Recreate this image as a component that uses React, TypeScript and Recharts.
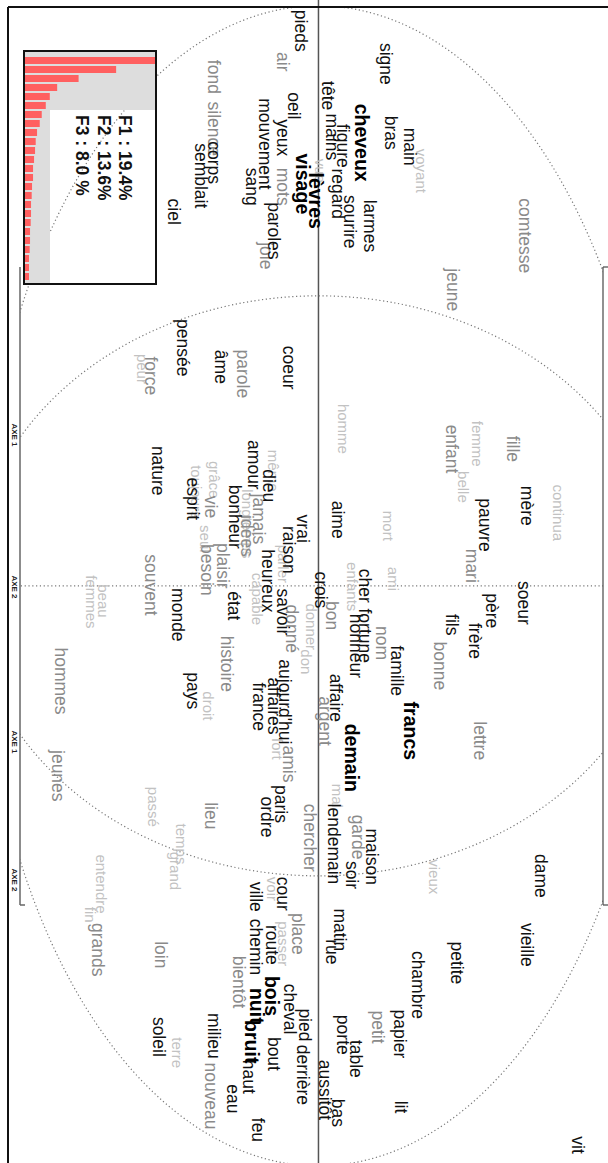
import React from 'react';
import { ScatterChart, Scatter, XAxis, YAxis, ReferenceLine, ReferenceDot, BarChart, Bar } from 'recharts';

// chart is drawn in landscape (F1 horizontal, F2 vertical) and turned a quarter turn
const W = 1163;
const H = 608;
const X_MIN = -2.02;
const X_MAX = 1.99;
const Y_MIN = -1.1;
const Y_MAX = 1.0;

type Word = [string, number, number];

const boldWords: Word[] = [
  ['lèvres', -1.328, -0.01], ['visage', -1.386, -0.052], ['cheveux', -1.528, 0.152],
  ['francs', 0.5, 0.321], ['demain', 0.593, 0.117], ['bois', 1.414, -0.159],
  ['nuit', 1.448, -0.214], ['bruit', 1.572, -0.231],
];

const blackWords: Word[] = [
  ['pieds', -1.914, -0.059], ['oeil', -1.655, -0.083], ['yeux', -1.545, -0.124],
  ['mouvement', -1.524, -0.186], ['sang', -1.376, -0.228], ['corps', -1.459, -0.362],
  ['semblait', -1.414, -0.407], ['ciel', -1.29, -0.5], ['paroles', -1.224, -0.152],
  ['signe', -1.8, 0.234], ['bras', -1.562, 0.252], ['main', -1.514, 0.317],
  ['tête', -1.69, 0.034], ['mains', -1.548, 0.045], ['figure', -1.517, 0.086],
  ['regard', -1.352, 0.069], ['sourire', -1.255, 0.11], ['larmes', -1.241, 0.179],
  ['pensée', -0.821, -0.469], ['coeur', -0.752, -0.103], ['âme', -0.755, -0.338],
  ['nature', -0.397, -0.555], ['dieu', -0.345, -0.172], ['amour', -0.417, -0.224],
  ['bonheur', -0.238, -0.29], ['esprit', -0.3, -0.434], ['vrai', -0.197, -0.052],
  ['raison', -0.124, -0.103], ['heureux', -0.017, -0.176], ['aime', -0.228, 0.069],
  ['crois', 0.014, 0.007], ['état', 0.069, -0.293], ['savoir', 0.09, -0.121],
  ['monde', 0.1, -0.486], ['pays', 0.362, -0.434], ["aujourd'hui", 0.4, -0.114],
  ['affaires', 0.414, -0.155], ['france', 0.417, -0.207], ['paris', 0.752, -0.131],
  ['ordre', 0.797, -0.179], ['mère', -0.276, 0.721], ['pauvre', -0.21, 0.576],
  ['soeur', 0.059, 0.71], ['père', 0.086, 0.6], ['frère', 0.19, 0.541],
  ['fils', 0.134, 0.462], ['cher', 0.0, 0.162], ['fortune', 0.172, 0.162],
  ['honneur', 0.207, 0.128], ['famille', 0.293, 0.272], ['affaire', 0.386, 0.062],
  ['lendemain', 0.89, 0.052], ['maison', 0.934, 0.186], ['soir', 0.997, 0.117],
  ['dame', 1.0, 0.769], ['vieille', 1.238, 0.721], ['petite', 1.3, 0.479],
  ['chambre', 1.376, 0.345], ['papier', 1.545, 0.283], ['table', 1.631, 0.128],
  ['porte', 1.548, 0.086], ['lit', 1.797, 0.286], ['bas', 1.817, 0.069],
  ['vit', 1.928, 0.897], ['aussitôt', 1.738, 0.021], ['matin', 1.186, 0.076],
  ['rue', 1.262, 0.048], ['cour', 1.062, -0.124], ['ville', 1.072, -0.217],
  ['route', 1.238, -0.159], ['chemin', 1.245, -0.217], ['cheval', 1.459, -0.097],
  ['pied', 1.514, -0.045], ['derrière', 1.686, -0.055], ['bout', 1.614, -0.155],
  ['haut', 1.693, -0.241], ['eau', 1.769, -0.297], ['milieu', 1.552, -0.362],
  ['feu', 1.876, -0.21], ['soleil', 1.555, -0.552],
];

const grayWords: Word[] = [
  ['air', -1.807, -0.124], ['fond', -1.755, -0.362], ['silence', -1.576, -0.362],
  ['mots', -1.376, -0.121], ['joie', -1.138, -0.183], ['comtesse', -1.207, 0.714],
  ['jeune', -1.021, 0.466], ['parole', -0.731, -0.262], ['force', -0.724, -0.579],
  ['jamais', -0.231, -0.207], ['vie', -0.272, -0.372], ['besoin', -0.055, -0.386],
  ['plaisir', -0.069, -0.331], ['souvent', -0.003, -0.579], ['hommes', 0.328, -0.89],
  ['jeunes', 0.655, -0.9], ['histoire', 0.269, -0.317], ['amis', 0.614, -0.103],
  ['lieu', 0.793, -0.372], ['chercher', 0.869, -0.031], ['fille', -0.472, 0.672],
  ['enfant', -0.472, 0.462], ['mari', -0.069, 0.531], ['bon', 0.103, 0.045],
  ['nom', 0.197, 0.221], ['bonne', 0.276, 0.421], ['lettre', 0.534, 0.559],
  ['argent', 0.466, 0.021], ['garde', 0.866, 0.138], ['petit', 1.521, 0.207],
  ['place', 1.2, -0.072], ['bientôt', 1.366, -0.276], ['loin', 1.272, -0.545],
  ['grands', 1.255, -0.762], ['nouveau', 1.759, -0.372], ['donné', 0.148, -0.09],
  ['idées', -0.172, -0.248],
];

const lightWords: Word[] = [
  ['voyant', -1.431, 0.355], ['vue', -1.431, 0.007], ['peur', -0.748, -0.607],
  ['homme', -0.541, 0.086], ['femme', -0.49, 0.548], ['belle', -0.341, 0.5],
  ['continua', -0.252, 0.828], ['mort', -0.207, 0.241], ['même', -0.397, -0.155],
  ['longtemps', -0.214, -0.245], ['grâce', -0.366, -0.359], ['toujours', -0.324, -0.421],
  ['seul', -0.162, -0.39], ['parler', -0.076, -0.121], ['capable', 0.045, -0.21],
  ['enfants', 0.003, 0.117], ['ami', -0.024, 0.259], ['donner', 0.141, -0.024],
  ['don', 0.262, -0.041], ['droit', 0.414, -0.379], ['fort', 0.562, -0.141],
  ['beau', 0.052, -0.741], ['femmes', 0.055, -0.783], ['passé', 0.762, -0.569],
  ['temps', 0.89, -0.472], ['grand', 0.983, -0.493], ['entendre', 1.028, -0.748],
  ['fin', 1.134, -0.786], ['terre', 1.61, -0.486], ['vieux', 1.003, 0.4],
  ['mal', 0.724, 0.066], ['voir', 1.045, -0.159], ['passer', 1.234, -0.121],
];

// eigenvalues in % of inertia
const axesNames = Array.from({ length: 25 }, (_, i) => `F${i + 1}`);
const eigenValues = [
  19.4, 13.6, 8.0, 4.8, 3.7, 3.1, 2.5, 2.2, 1.8, 1.6, 1.5, 1.35, 1.2,
  1.2, 1.05, 1.0, 0.9, 0.9, 0.85, 0.75, 0.75, 0.7, 0.6, 0.6, 0.6,
];
const legendLines = ['F1 : 19.4%', 'F2 : 13.6%', 'F3 : 8.0 %'];

// dotted ellipses, radii in axis units
const INNER_RX = 1.0;
const INNER_RY = 1.2;
const OUTER_RX = 2.0;
const OUTER_RY = 1.17;
const FRAME_Y_LOW = -1.028;
const FRAME_Y_HIGH = 0.983;

const FONT = '"Liberation Sans", Arial, Helvetica, sans-serif';
const DOTS = '1.2 2.6';

const toPoints = (list: Word[]) => list.map(([w, x, y]) => ({ w, x, y }));

const wordShape = (size: number, color: string, weight: string) => (props: any) => {
  const { cx, cy, payload } = props;
  return (
    <text
      x={cx}
      y={cy}
      textAnchor="middle"
      dominantBaseline="central"
      fontSize={size}
      fontWeight={weight}
      fill={color}
      fontFamily={FONT}
    >
      {payload.w}
    </text>
  );
};

const pxX = W / (X_MAX - X_MIN);
const pxY = H / (Y_MAX - Y_MIN);

const ellipseShape = (props: any) => {
  const { cx, cy } = props;
  return (
    <g>
      <defs>
        <clipPath id="frame-clip">
          <rect x={7} y={5} width={W - 7} height={583} />
        </clipPath>
      </defs>
      <g clipPath="url(#frame-clip)" fill="none" stroke="#777" strokeWidth={1.2} strokeDasharray={DOTS}>
        <ellipse cx={cx} cy={cy} rx={INNER_RX * pxX} ry={INNER_RY * pxY} />
        <ellipse cx={cx} cy={cy} rx={OUTER_RX * pxX} ry={OUTER_RY * pxY} />
      </g>
    </g>
  );
};

const axeLabels: [string, number][] = [['AXE 1', 435], ['AXE 2', 587], ['AXE 1', 742], ['AXE 2', 880]];

const Inset = () => {
  const data = axesNames.map((f, i) => ({ f, v: eigenValues[i] }));
  return (
    <div style={{ position: 'absolute', left: 50, top: 451, width: 231, height: 130, border: '2px solid #111' }}>
      <div style={{ position: 'absolute', left: 0, top: 0, width: 58, height: 130, background: '#dddddd' }} />
      <div style={{ position: 'absolute', left: 58, top: 105, width: 173, height: 25, background: '#dddddd' }} />
      <div style={{ position: 'absolute', left: 0, top: 0 }}>
        <BarChart width={231} height={130} data={data} margin={{ top: 0, right: 2, bottom: 0, left: 4 }} barSize={7}>
          <XAxis dataKey="f" hide />
          <YAxis hide domain={[0, 19.4]} allowDataOverflow />
          <Bar dataKey="v" fill="#ff6060" isAnimationActive={false} />
        </BarChart>
      </div>
      <svg width={231} height={130} style={{ position: 'absolute', left: 0, top: 0 }}>
        {legendLines.map((t, i) => (
          <text key={t} x={63} y={36 + i * 21.5} fontSize={17.5} fontWeight="bold" fill="#111" fontFamily={FONT}>
            {t}
          </text>
        ))}
      </svg>
    </div>
  );
};

export default function App() {
  const tiers = [
    { data: toPoints(lightWords), shape: wordShape(15, '#c2c2c2', 'normal') },
    { data: toPoints(grayWords), shape: wordShape(17.5, '#8a8a8a', 'normal') },
    { data: toPoints(blackWords), shape: wordShape(17.5, '#111', 'normal') },
    { data: toPoints(boldWords), shape: wordShape(19.5, '#000', 'bold') },
  ];
  return (
    <div style={{ position: 'absolute', left: 0, top: 0, width: H, height: W, overflow: 'hidden', background: '#fff' }}>
      <div
        style={{
          position: 'absolute',
          left: 0,
          top: 0,
          width: W,
          height: H,
          transformOrigin: '0 0',
          transform: `translate(${H}px, 0px) rotate(90deg)`,
        }}
      >
        <ScatterChart width={W} height={H} margin={{ top: 0, right: 0, bottom: 0, left: 0 }}>
          <XAxis type="number" dataKey="x" domain={[X_MIN, X_MAX]} allowDataOverflow hide />
          <YAxis type="number" dataKey="y" domain={[Y_MIN, Y_MAX]} allowDataOverflow hide />
          <ReferenceDot x={0} y={0} r={1} shape={ellipseShape} ifOverflow="visible" />
          <ReferenceLine
            segment={[{ x: 0, y: FRAME_Y_LOW }, { x: 0, y: FRAME_Y_HIGH }]}
            stroke="#777"
            strokeWidth={1.2}
            strokeDasharray={DOTS}
          />
          <ReferenceLine y={0} stroke="#555" strokeWidth={1.5} />
          {tiers.map((t, i) => (
            <Scatter key={i} data={t.data} shape={t.shape} isAnimationActive={false} />
          ))}
        </ScatterChart>
        <svg width={W} height={H} style={{ position: 'absolute', left: 0, top: 0, pointerEvents: 'none' }}>
          <line x1={7} y1={0} x2={7} y2={600} stroke="#111" strokeWidth={2} />
          <line x1={7} y1={600} x2={W} y2={600} stroke="#111" strokeWidth={2} />
          <line x1={267} y1={588} x2={905} y2={588} stroke="#666" strokeWidth={1.5} />
          <line x1={905} y1={588} x2={905} y2={583} stroke="#666" strokeWidth={1.5} />
          <line x1={267} y1={5} x2={905} y2={5} stroke="#555" strokeWidth={1.3} />
          <line x1={267} y1={5} x2={267} y2={0} stroke="#555" strokeWidth={1.3} />
          <line x1={905} y1={5} x2={905} y2={0} stroke="#555" strokeWidth={1.3} />
          {axeLabels.map(([t, x], i) => (
            <text key={i} x={x} y={594} textAnchor="middle" dominantBaseline="central" fontSize={8} fontWeight="bold" fill="#222" fontFamily={FONT}>
              {t}
            </text>
          ))}
        </svg>
        <Inset />
      </div>
    </div>
  );
}
